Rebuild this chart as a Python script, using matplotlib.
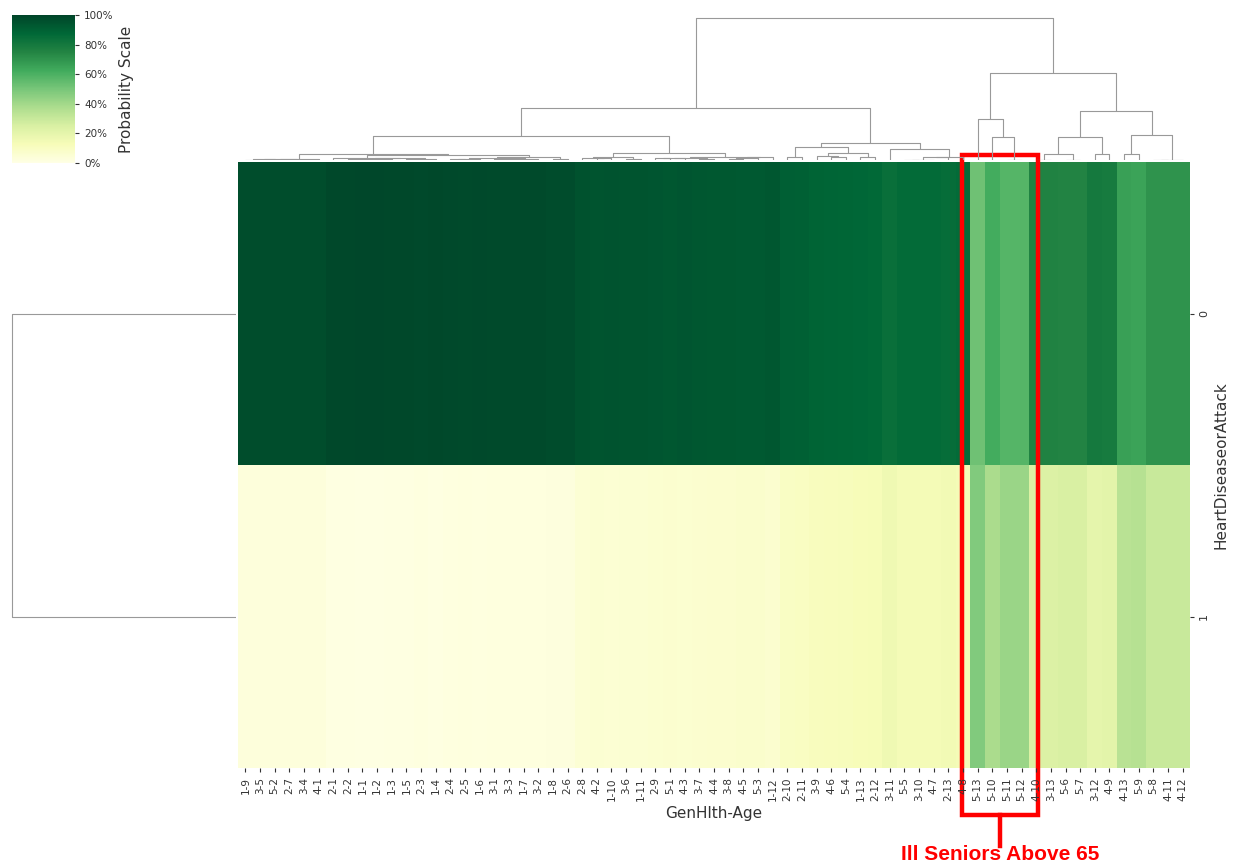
import numpy as np
import matplotlib
matplotlib.use("Agg")
import matplotlib.pyplot as plt
import matplotlib.transforms as mtransforms
from matplotlib.patches import Rectangle
from matplotlib.collections import LineCollection

# column order as it comes out of the clustering (GenHlth-Age)
col_labels = ["1-9", "3-5", "5-2", "2-7", "3-4", "4-1", "2-1", "2-2", "1-1", "1-2",
              "1-3", "1-5", "2-3", "1-4", "2-4", "2-5", "1-6", "3-1", "3-3", "1-7",
              "3-2", "1-8", "2-6", "2-8", "4-2", "1-10", "3-6", "1-11", "2-9", "5-1",
              "4-3", "3-7", "4-4", "3-8", "4-5", "5-3", "1-12", "2-10", "2-11", "3-9",
              "4-6", "5-4", "1-13", "2-12", "3-11", "5-5", "3-10", "4-7", "2-13", "4-8",
              "5-13", "5-10", "5-11", "5-12", "4-10", "3-13", "5-6", "5-7", "3-12", "4-9",
              "4-13", "5-9", "5-8", "4-11", "4-12"]
row_labels = ["0", "1"]

# share of respondents without / with heart disease or attack
no_attack = [0.972, 0.972, 0.970, 0.972, 0.972, 0.970, 0.985, 0.988, 0.990, 0.990,
             0.988, 0.986, 0.984, 0.986, 0.982, 0.980, 0.983, 0.980, 0.978, 0.980,
             0.978, 0.976, 0.974, 0.950, 0.945, 0.948, 0.944, 0.942, 0.938, 0.935,
             0.938, 0.934, 0.932, 0.930, 0.928, 0.926, 0.934, 0.905, 0.900, 0.890,
             0.885, 0.880, 0.875, 0.870, 0.840, 0.860, 0.860, 0.860, 0.855, 0.860,
             0.520, 0.620, 0.580, 0.580, 0.760, 0.760, 0.750, 0.750, 0.800, 0.790,
             0.660, 0.650, 0.700, 0.700, 0.700]
attack = [0.028, 0.028, 0.030, 0.028, 0.028, 0.030, 0.015, 0.012, 0.010, 0.010,
          0.012, 0.014, 0.016, 0.014, 0.018, 0.020, 0.017, 0.020, 0.022, 0.020,
          0.022, 0.024, 0.026, 0.050, 0.055, 0.052, 0.056, 0.058, 0.062, 0.065,
          0.062, 0.066, 0.068, 0.070, 0.072, 0.074, 0.066, 0.095, 0.100, 0.110,
          0.115, 0.120, 0.125, 0.130, 0.160, 0.140, 0.140, 0.140, 0.145, 0.140,
          0.480, 0.380, 0.420, 0.420, 0.240, 0.240, 0.250, 0.250, 0.200, 0.210,
          0.340, 0.350, 0.300, 0.300, 0.300]

highlight = ("5-13", "4-10")
highlight_text = "Ill Seniors Above 65"

data = np.array([no_attack, attack])


def chain_linkage(X):
    """Average linkage (euclidean) that only joins neighbouring clusters,
    so the leaves keep their order. Returns U-shaped segments."""
    clusters = [[i] for i in range(len(X))]
    xs = [i + 0.5 for i in range(len(X))]
    hs = [0.0] * len(X)
    segs = []
    while len(clusters) > 1:
        best = None
        for k in range(len(clusters) - 1):
            a, b = X[clusters[k]], X[clusters[k + 1]]
            d = np.linalg.norm(a[:, None, :] - b[None, :, :], axis=2).mean()
            if best is None or d < best[0]:
                best = (d, k)
        d, k = best
        h = max(d, hs[k], hs[k + 1])
        segs.append([(xs[k], hs[k]), (xs[k], h), (xs[k + 1], h), (xs[k + 1], hs[k + 1])])
        clusters[k] = clusters[k] + clusters[k + 1]
        xs[k] = (xs[k] + xs[k + 1]) / 2
        hs[k] = h
        del clusters[k + 1], xs[k + 1], hs[k + 1]
    return segs, hs[0]


W, H = 1239, 865
fig = plt.figure(figsize=(W / 100, H / 100), dpi=100)

def px_axes(x0, y0, x1, y1):
    return fig.add_axes([x0 / W, 1 - y1 / H, (x1 - x0) / W, (y1 - y0) / H])

ax_heat = px_axes(238, 162, 1190, 768)
ax_col = px_axes(238, 15, 1190, 160)
ax_row = px_axes(10, 162, 236, 768)
ax_cbar = px_axes(12, 15, 75, 163)

# heatmap
mesh = ax_heat.pcolormesh(data, cmap="YlGn", vmin=0, vmax=1)
ax_heat.set_xlim(0, data.shape[1])
ax_heat.set_ylim(data.shape[0], 0)
ax_heat.set_xticks(np.arange(data.shape[1]) + 0.5)
ax_heat.set_xticklabels(col_labels, rotation=90, fontsize=7.5)
ax_heat.set_yticks(np.arange(data.shape[0]) + 0.5)
ax_heat.set_yticklabels(row_labels, rotation=90, fontsize=8, va="center")
ax_heat.yaxis.tick_right()
ax_heat.yaxis.set_label_position("right")
ax_heat.set_xlabel("GenHlth-Age", fontsize=11, color="#333333")
ax_heat.set_ylabel("HeartDiseaseorAttack", fontsize=11, color="#333333", labelpad=3)
ax_heat.tick_params(colors="#333333", length=3)
for s in ax_heat.spines.values():
    s.set_visible(False)

# column dendrogram
segs, top = chain_linkage(data.T)
ax_col.add_collection(LineCollection(segs, colors="#999999", linewidths=0.8))
ax_col.set_xlim(0, data.shape[1])
ax_col.set_ylim(0, top / 0.98)
ax_col.axis("off")

# row dendrogram
rsegs, rtop = chain_linkage(data)
rsegs = [[(h, x) for x, h in s] for s in rsegs]
ax_row.add_collection(LineCollection(rsegs, colors="#999999", linewidths=0.8))
ax_row.set_ylim(data.shape[0], 0)
ax_row.set_xlim(rtop * 1.01, 0)
ax_row.axis("off")

# colorbar
cb = fig.colorbar(mesh, cax=ax_cbar, ticks=np.linspace(0, 1, 6))
cb.outline.set_visible(False)
cb.ax.set_yticklabels([f"{int(t * 100)}%" for t in np.linspace(0, 1, 6)], fontsize=7.5,
                      color="#333333")
cb.ax.tick_params(length=3, colors="#333333")
cb.set_label("Probability Scale", fontsize=11, color="#333333")

# highlighted group
i0 = col_labels.index(highlight[0])
i1 = col_labels.index(highlight[1])
trans = mtransforms.blended_transform_factory(ax_heat.transData, ax_heat.transAxes)
x0, x1 = i0 - 0.55, i1 + 0.65
ax_heat.add_patch(Rectangle((x0, -0.078), x1 - x0, 1.09, transform=trans,
                            fill=False, edgecolor="red", linewidth=3.2, clip_on=False))
xm = (x0 + x1) / 2
ax_heat.plot([xm, xm], [-0.078, -0.128], color="red", linewidth=3.2,
             transform=trans, clip_on=False)
ax_heat.text(xm, -0.142, highlight_text, transform=trans, ha="center", va="center",
             color="red", fontsize=15, fontweight="bold", family="Liberation Sans")

fig.savefig("out.png", dpi=100)
